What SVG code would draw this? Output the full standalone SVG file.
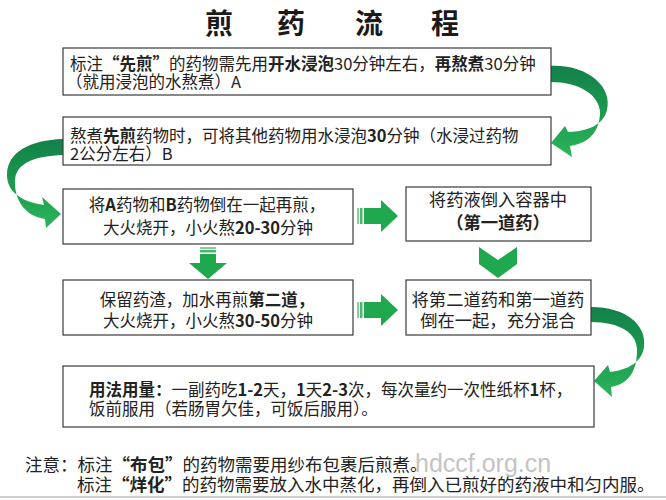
<svg xmlns="http://www.w3.org/2000/svg" width="666" height="500" viewBox="0 0 666 500">
<defs>
<style>
.box{fill:#fff;stroke:#3a3a3a;stroke-width:1.2}
.t{font-family:"Noto Sans CJK SC","Noto Sans",sans-serif;font-size:16.5px;fill:#222}
.l{font-size:17.3px}
.n{font-size:17.5px}
.c{text-anchor:middle}
.b{font-weight:bold}
.title{font-family:"Noto Sans CJK SC",sans-serif;font-size:28px;font-weight:bold;fill:#1a1a1a;text-anchor:middle}
.arr{fill:#1fa84e}
.s1{fill:#86cf9c}
.s2{fill:#4fb86f}
.curve{fill:url(#g)}
</style>
<linearGradient id="g" x1="0" y1="0" x2="0" y2="1">
<stop offset="0" stop-color="#12804a"/>
<stop offset="0.5" stop-color="#1c9a4e"/>
<stop offset="1" stop-color="#2bb55a"/>
</linearGradient>
</defs>
<rect width="666" height="500" fill="#fff"/>
<g id="title">
<text class="title" x="219" y="34">煎</text>
<text class="title" x="291" y="34">药</text>
<text class="title" x="369" y="34">流</text>
<text class="title" x="445" y="34">程</text>
</g>
<g id="connectors">
<path class="curve" d="M550,66 C586,64 613,86 607,110 C603,125 589,131 568,132 L565,126 L551,143 L572,157 L570,146 C592,143 600,128 600,112 C599,95 580,82 550,82 Z"/>
<path class="curve" d="M63,139 C30,140 7,152 7,175 C7,192 22,202 44,205 L42,197 L61,214 L46,228 L45,219 C25,216 14,200 15,180 C16,163 35,156 63,155 Z"/>
<path class="curve" d="M591,307 C626,307 647,325 644,347 C642,362 628,370 610,372 L608,365 L594,381 L612,397 L611,387 C633,383 637,365 637,350 C637,333 620,322 591,322 Z"/>
<g id="arrow-right-1">
<rect class="s1" x="357" y="208" width="2" height="16"/>
<rect class="s2" x="360" y="208" width="2.5" height="16"/>
<polygon class="arr" points="364,208 381,208 381,200 398,216 381,232 381,224 364,224"/>
</g>
<g id="arrow-right-2">
<rect class="s1" x="357" y="302" width="2" height="16"/>
<rect class="s2" x="360" y="302" width="2.5" height="16"/>
<polygon class="arr" points="364,302 381,302 381,294 398,310 381,326 381,318 364,318"/>
</g>
<g id="arrow-down-1">
<rect class="s1" x="200" y="247" width="16" height="2"/>
<rect class="s2" x="200" y="250" width="16" height="2.5"/>
<polygon class="arr" points="200,254 216,254 216,263 227,263 208,279 189,263 200,263"/>
</g>
<polygon id="arrow-down-2" class="arr" points="479,247 498,260 517,247 517,264 498,278 479,264"/>
</g>
<g id="n1">
<rect class="box" x="63" y="48" width="488" height="47"/>
<text class="t" x="70" y="70">标注<tspan class="b">“先煎”</tspan>的药物需先用<tspan class="b">开水浸泡</tspan>30分钟左右，<tspan class="b">再熬煮</tspan>30分钟</text>
<text class="t" x="66" y="88">（就用浸泡的水熬煮）A</text>
</g>
<g id="n2">
<rect class="box" x="63" y="117" width="488" height="48"/>
<text class="t" x="70" y="142">熬煮<tspan class="b">先煎</tspan>药物时，可将其他药物用水浸泡<tspan class="b">30</tspan>分钟（水浸过药物</text>
<text class="t" x="70" y="160">2公分左右）B</text>
</g>
<g id="n3">
<rect class="box" x="63" y="189" width="290" height="55"/>
<text class="t c" x="207" y="211">将<tspan class="b">A</tspan>药物和<tspan class="b">B</tspan>药物倒在一起再煎，</text>
<text class="t c" x="208" y="234">大火烧开，小火熬<tspan class="b">20-30</tspan>分钟</text>
</g>
<g id="n4">
<rect class="box" x="406" y="187" width="185" height="54"/>
<text class="t l c" x="498" y="206">将药液倒入容器中</text>
<text class="t l c b" x="498" y="229">（第一道药）</text>
</g>
<g id="n5">
<rect class="box" x="63" y="280" width="290" height="55"/>
<text class="t c" x="207" y="306">保留药渣，加水再煎<tspan class="b">第二道，</tspan></text>
<text class="t c" x="208" y="327">大火烧开，小火熬<tspan class="b">30-50</tspan>分钟</text>
</g>
<g id="n6">
<rect class="box" x="406" y="280" width="185" height="55"/>
<text class="t l c" x="498" y="306">将第二道药和第一道药</text>
<text class="t l c" x="498" y="327">倒在一起，充分混合</text>
</g>
<g id="n7">
<rect class="box" x="63" y="366" width="531" height="61"/>
<text class="t" x="89" y="396"><tspan class="b">用法用量：</tspan>一副药吃<tspan class="b">1-2</tspan>天，<tspan class="b">1</tspan>天<tspan class="b">2-3</tspan>次，每次量约一次性纸杯<tspan class="b">1</tspan>杯，</text>
<text class="t" x="89" y="415">饭前服用（若肠胃欠佳，可饭后服用）。</text>
</g>
<g id="notes">
<text x="415" y="472" font-family="Liberation Sans, Arial, sans-serif" font-size="25" fill="#c4c4c4">hdccf.org.cn</text>
<text class="t n" x="25" y="471">注意：标注<tspan class="b">“布包”</tspan>的药物需要用纱布包裹后煎煮。</text>
<text class="t n" x="77" y="491">标注<tspan class="b">“烊化”</tspan>的药物需要放入水中蒸化，再倒入已煎好的药液中和匀内服。</text>
</g>
<line x1="0" y1="497" x2="666" y2="497" stroke="#cfcfcf" stroke-width="2"/>
</svg>
